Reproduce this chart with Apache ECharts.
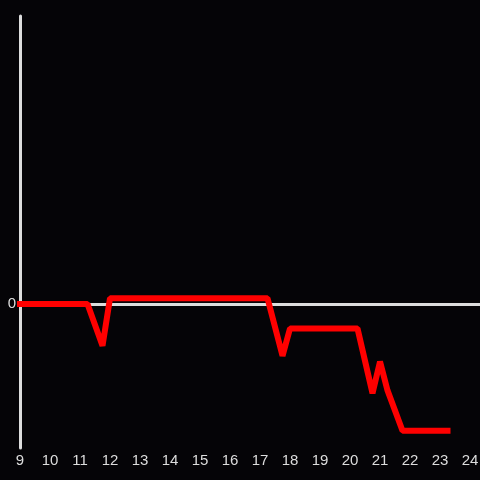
<!DOCTYPE html>
<html>
<head>
<meta charset="utf-8">
<script src="https://cdn.jsdelivr.net/npm/echarts@6/dist/echarts.min.js"></script>
<style>
  html, body { margin: 0; padding: 0; background: #050407; }
  #chart { width: 480px; height: 480px; }
</style>
</head>
<body>
<div id="chart"></div>
<script>
// hour of day vs. value
const hours = [9, 11.25, 11.75, 12, 17.25, 17.75, 18, 20.25, 20.75, 21, 21.25, 21.75, 23.25]
const values = [0, 0, -0.29, 0.04, 0.04, -0.36, -0.17, -0.17, -0.62, -0.4, -0.6, -0.88, -0.88]

const chart = echarts.init(document.getElementById('chart'))

const axisColor = '#dddddd'

chart.setOption({
  backgroundColor: '#050407',
  animation: false,
  grid: { left: 20, right: 0, top: 16, bottom: 32, outerBoundsMode: 'none' },
  xAxis: [
    {
      type: 'value',
      min: 9,
      max: 24.333,
      interval: 1,
      axisLine: { show: false, onZero: false },
      axisTick: { show: false },
      splitLine: { show: false },
      axisLabel: {
        color: axisColor,
        fontSize: 15,
        fontFamily: 'Liberation Sans',
        margin: 5,
        formatter: v => (Number.isInteger(v) ? String(v) : '')
      }
    },
    {
      // zero line
      type: 'value',
      min: 9,
      max: 24.333,
      position: 'bottom',
      axisLine: { show: true, onZero: true, lineStyle: { color: axisColor, width: 3 } },
      axisTick: { show: false },
      axisLabel: { show: false },
      splitLine: { show: false }
    }
  ],
  yAxis: {
    type: 'value',
    min: -1,
    max: 2,
    interval: 1,
    axisLine: { show: true, onZero: false, lineStyle: { color: axisColor, width: 3 } },
    axisTick: { show: false },
    splitLine: { show: false },
    axisLabel: {
      color: axisColor,
      fontSize: 15,
      fontFamily: 'Liberation Sans',
      margin: 4,
      formatter: v => (v === 0 ? '0' : '')
    }
  },
  series: [{
    type: 'line',
    data: hours.map((h, i) => [h, values[i]]),
    symbol: 'none',
    z: 5,
    lineStyle: { color: '#ff0000', width: 6, cap: 'square' }
  }]
})
</script>
</body>
</html>
